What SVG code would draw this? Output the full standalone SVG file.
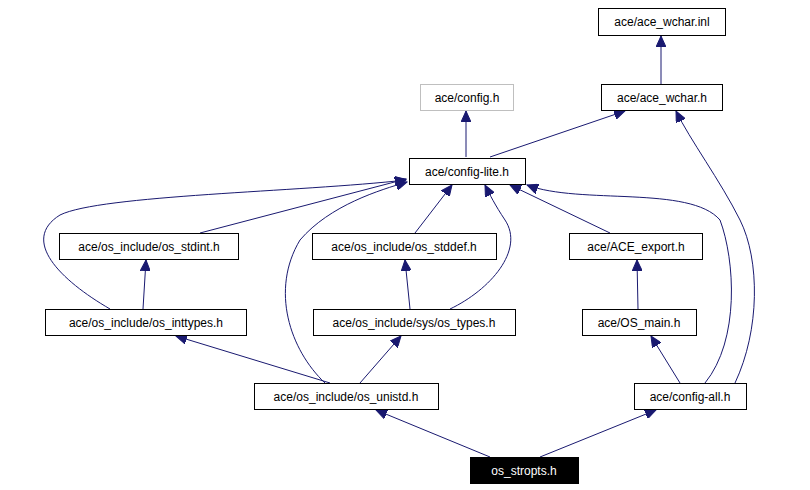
<svg xmlns="http://www.w3.org/2000/svg" width="810" height="490" viewBox="0 0 810 490">
<style>
.n rect{fill:#fff;stroke:#000;stroke-width:1}
.n text{font-family:"Liberation Sans",Arial,sans-serif;font-size:12px;text-anchor:middle;fill:#000}
.e path{fill:none;stroke:#191970;stroke-width:1;marker-end:url(#a)}
</style>
<defs><marker id="a" markerUnits="userSpaceOnUse" markerWidth="12" markerHeight="10" refX="11" refY="5" orient="auto"><path d="M0,0L11,5L0,10z" fill="#191970" stroke="#191970"/></marker></defs>
<rect width="810" height="490" fill="#fff"/>
<g class="e">
<path d="M661,84L661,36"/>
<path d="M490,157L625,111"/>
<path d="M466,157L466,111"/>
<path d="M200,233L406,179"/>
<path d="M415,233L452,185"/>
<path d="M610,233L510,185"/>
<path d="M110,309C60,280 20,240 60,215C100,195 300,192 406,180"/>
<path d="M325,383C290,350 270,290 300,240C330,205 380,190 407,182"/>
<path d="M450,309C490,290 525,250 505,220C495,205 490,195 485,185"/>
<path d="M705,383C740,340 735,260 720,220C690,185 580,205 527,185"/>
<path d="M735,383C760,330 760,260 740,220C720,180 690,140 676,111"/>
<path d="M143,309L146,260"/>
<path d="M330,383L176,336"/>
<path d="M360,383L401,336"/>
<path d="M410,309L405,260"/>
<path d="M638,309L637,260"/>
<path d="M680,383L651,336"/>
<path d="M490,457L376,410"/>
<path d="M540,457L656,410"/>
</g>
<g id="n1" class="n"><rect x="598.5" y="8.5" width="127" height="27"/><text x="662" y="26">ace/ace_wchar.inl</text></g>
<g id="n2" class="n"><rect x="601.5" y="84.5" width="121" height="26"/><text x="662" y="102">ace/ace_wchar.h</text></g>
<g id="n3" class="n"><rect x="420.5" y="84.5" width="93" height="26" style="stroke:#bfbfbf"/><text x="467" y="102">ace/config.h</text></g>
<g id="n4" class="n"><rect x="409.5" y="158.5" width="116" height="26"/><text x="467" y="176">ace/config-lite.h</text></g>
<g id="n5" class="n"><rect x="59.5" y="233.5" width="179" height="26"/><text x="149" y="251">ace/os_include/os_stdint.h</text></g>
<g id="n6" class="n"><rect x="312.5" y="233.5" width="184" height="26"/><text x="404" y="251">ace/os_include/os_stddef.h</text></g>
<g id="n7" class="n"><rect x="569.5" y="233.5" width="133" height="26"/><text x="636" y="251">ace/ACE_export.h</text></g>
<g id="n8" class="n"><rect x="45.5" y="309.5" width="201" height="26"/><text x="146" y="327">ace/os_include/os_inttypes.h</text></g>
<g id="n9" class="n"><rect x="313.5" y="309.5" width="202" height="26"/><text x="414" y="327">ace/os_include/sys/os_types.h</text></g>
<g id="n10" class="n"><rect x="582.5" y="309.5" width="114" height="26"/><text x="639" y="327">ace/OS_main.h</text></g>
<g id="n11" class="n"><rect x="254.5" y="383.5" width="184" height="26"/><text x="346" y="401">ace/os_include/os_unistd.h</text></g>
<g id="n12" class="n"><rect x="634.5" y="383.5" width="112" height="26"/><text x="690" y="401">ace/config-all.h</text></g>
<g id="n13" class="n"><rect x="470.5" y="457.5" width="108" height="26" style="fill:#000"/><text x="524" y="475" style="fill:#fff">os_stropts.h</text></g>
</svg>
